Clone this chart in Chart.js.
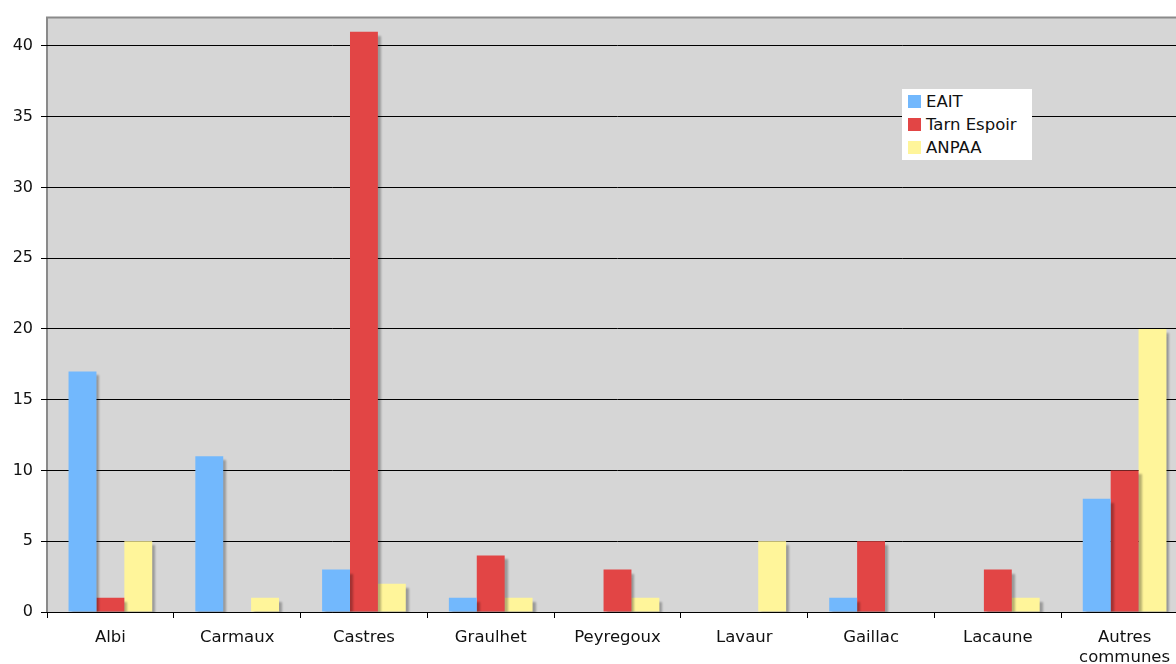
<!DOCTYPE html>
<html>
<head>
<meta charset="utf-8">
<title>Répartition par commune</title>
<script src="https://cdn.jsdelivr.net/npm/chart.js@4/dist/chart.umd.min.js"></script>
<style>
    html, body {
        margin: 0;
        padding: 0;
        background: #fff;
        overflow: hidden;
    }

    #wrap {
        position: relative;
        width: 1200px;
        height: 664px;
    }

    #legend {
        position: absolute;
        left: 902px;
        top: 89px;
        width: 130px;
        height: 71px;
        background: #fff;
        padding: 1px 0 0 6px;
        box-sizing: border-box;
        font: 16.5px "DejaVu Sans", Verdana, sans-serif;
        color: #111;
    }

    #legend div {
        height: 23px;
        line-height: 23px;
        white-space: nowrap;
    }

    #legend span {
        display: inline-block;
        width: 13px;
        height: 13px;
        margin-right: 5px;
        vertical-align: -1px;
    }
</style>
</head>
<body>
<div id="wrap">
    <canvas id="chart" width="1200" height="664"></canvas>
    <div id="legend"></div>
</div>

<script>
/* ---------------- Data ---------------- */

const communes = [
    "Albi", "Carmaux", "Castres", "Graulhet", "Peyregoux",
    "Lavaur", "Gaillac", "Lacaune", ["Autres", "communes"]
];

const eait = [17, 11, 3, 1, 0, 0, 1, 0, 8];
const tarnEspoir = [1, 0, 41, 4, 3, 0, 5, 3, 10];
const anpaa = [5, 1, 2, 1, 1, 5, 0, 1, 20];

const yTicks = [0, 5, 10, 15, 20, 25, 30, 35, 40];

const FONT = "'DejaVu Sans', Verdana, sans-serif";

/* ---------------- Plugins ---------------- */

// grey plot background with the darker top / left frame
const plotFrame = {
    id: "plotFrame",
    beforeDraw(chart) {
        const { ctx, chartArea: a } = chart;
        ctx.save();
        ctx.fillStyle = "#d6d6d6";
        ctx.fillRect(a.left, a.top, a.right - a.left, a.bottom - a.top);
        ctx.strokeStyle = "#8a8a8a";
        ctx.lineWidth = 2;
        ctx.beginPath();
        ctx.moveTo(a.left, a.bottom);
        ctx.lineTo(a.left, a.top);
        ctx.lineTo(a.right, a.top);
        ctx.stroke();
        ctx.restore();
    }
};

// soft drop shadow behind the bars
const barShadow = {
    id: "barShadow",
    beforeDatasetsDraw(chart) {
        const ctx = chart.ctx;
        ctx.save();
        ctx.shadowColor = "rgba(0,0,0,0.28)";
        ctx.shadowOffsetX = 3;
        ctx.shadowOffsetY = 4;
        ctx.shadowBlur = 2;
    },
    afterDatasetsDraw(chart) {
        chart.ctx.restore();
    }
};

/* ---------------- Chart ---------------- */

const chart = new Chart(document.getElementById("chart"), {

    type: "bar",

    data: {

        labels: communes,

        datasets: [
            { label: "EAIT", data: eait, backgroundColor: "#72b8fd" },
            { label: "Tarn Espoir", data: tarnEspoir, backgroundColor: "#e24545" },
            { label: "ANPAA", data: anpaa, backgroundColor: "#fff59a" }
        ]

    },

    options: {

        responsive: false,

        animation: false,

        layout: {
            padding: { top: 16, right: 12, left: 0, bottom: 0 }
        },

        datasets: {
            bar: {
                categoryPercentage: 0.66,
                barPercentage: 1,
                borderWidth: 0
            }
        },

        plugins: {
            legend: { display: false },
            tooltip: { enabled: false }
        },

        scales: {

            x: {
                grid: {
                    drawOnChartArea: false,
                    drawTicks: true,
                    tickLength: 6,
                    color: "#000",
                    offset: true
                },
                border: { color: "#000", width: 1 },
                ticks: {
                    color: "#111",
                    padding: 9,
                    maxRotation: 0,
                    autoSkip: false,
                    font: { family: FONT, size: 16.5, lineHeight: 1.25 }
                },
                afterFit(scale) {
                    scale.height = 52;
                }
            },

            y: {
                min: 0,
                max: 42,
                afterBuildTicks(scale) {
                    scale.ticks = yTicks.map(v => ({ value: v }));
                },
                grid: {
                    color: "#000",
                    lineWidth: 1,
                    tickLength: 6
                },
                border: { display: false },
                ticks: {
                    color: "#111",
                    padding: 8,
                    font: { family: FONT, size: 16 }
                },
                afterFit(scale) {
                    scale.width = 47;
                }
            }

        }

    },

    plugins: [plotFrame, barShadow]

});

/* ---------------- Legend ---------------- */

document.getElementById("legend").innerHTML = chart.data.datasets
    .map(ds => `<div><span style="background:${ds.backgroundColor}"></span>${ds.label}</div>`)
    .join("");
</script>
</body>
</html>
